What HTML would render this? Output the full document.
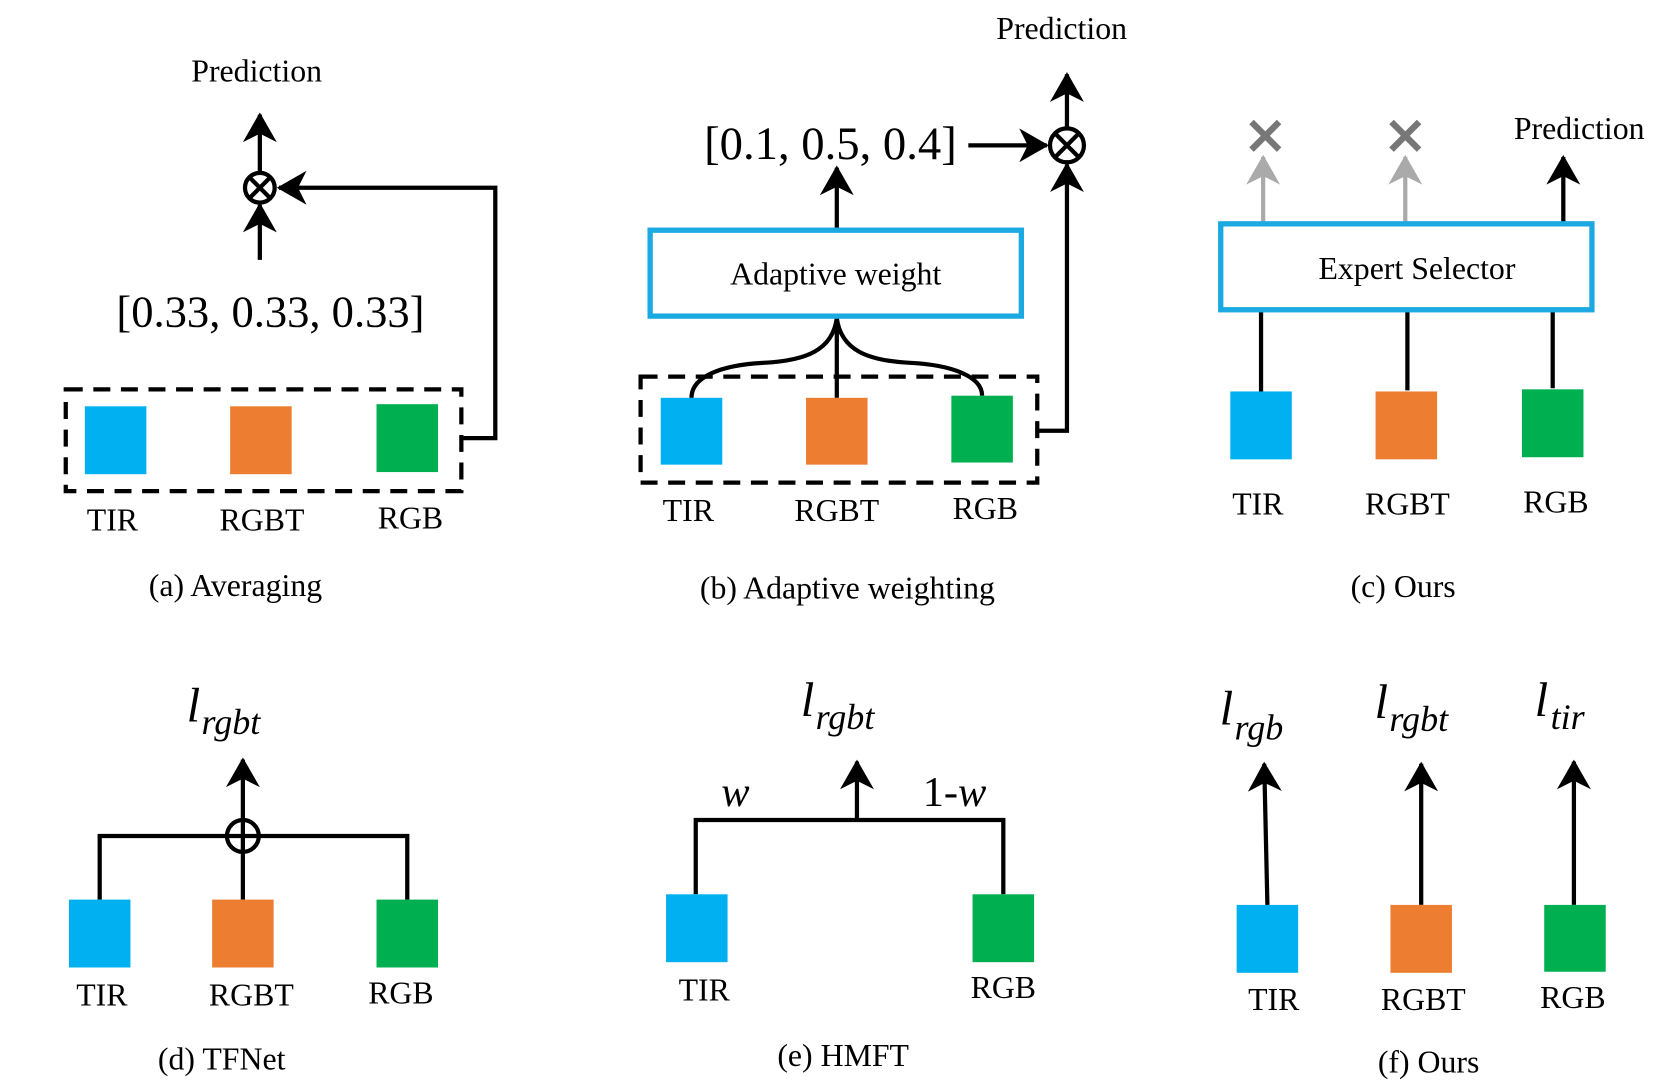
<!DOCTYPE html>
<html><head><meta charset="utf-8"><style>
html,body{margin:0;padding:0;background:#fff;width:1663px;height:1081px;overflow:hidden}
svg{display:block}
text{font-family:"Liberation Serif",serif;fill:#000}
</style></head><body>
<svg width="1663" height="1081" viewBox="0 0 1568 1019" preserveAspectRatio="none" xmlns="http://www.w3.org/2000/svg">
<defs>
<marker id="ah" markerWidth="8" markerHeight="8" refX="6.5" refY="4" orient="auto" markerUnits="strokeWidth">
<path d="M0,0 L7,4 L0,8 L2,4 Z" fill="#000"/></marker>
<marker id="ag" markerWidth="8" markerHeight="8" refX="6.5" refY="4" orient="auto" markerUnits="strokeWidth">
<path d="M0,0 L7,4 L0,8 L2,4 Z" fill="#aaa"/></marker>
</defs>
<g stroke="#000" stroke-width="4" fill="none">
<!-- (a) -->
<line x1="245" y1="162" x2="245" y2="108" marker-end="url(#ah)"/>
<line x1="245" y1="245" x2="245" y2="193" marker-end="url(#ah)"/>
<circle cx="245" cy="177" r="14"/>
<line x1="235" y1="167" x2="255" y2="187"/><line x1="255" y1="167" x2="235" y2="187"/>
<polyline points="437,413 467,413 467,177 263,177" marker-end="url(#ah)"/>
<rect x="62" y="367" width="373" height="96" stroke-dasharray="16,10"/>
<!-- (b) -->
<line x1="1006" y1="121" x2="1006" y2="70" marker-end="url(#ah)"/>
<circle cx="1006" cy="137" r="16"/>
<line x1="995" y1="126" x2="1017" y2="148"/><line x1="1017" y1="126" x2="995" y2="148"/>
<line x1="913" y1="137" x2="987" y2="137" marker-end="url(#ah)"/>
<line x1="789" y1="216" x2="789" y2="158" marker-end="url(#ah)"/>
<polyline points="978,406 1006,406 1006,155" marker-end="url(#ah)"/>
<path d="M789,300 L789,375"/>
<path d="M789,300 C785,330 760,340 720,342 C680,344 652,355 652,375"/>
<path d="M789,300 C793,330 818,340 858,342 C898,344 926,355 926,373"/>
<rect x="604" y="355" width="374" height="100" stroke-dasharray="16,10"/>
<!-- (c) -->
<line x1="1191" y1="210" x2="1191" y2="148" stroke="#aaa" marker-end="url(#ag)"/>
<line x1="1325" y1="210" x2="1325" y2="148" stroke="#aaa" marker-end="url(#ag)"/>
<line x1="1474" y1="210" x2="1474" y2="148" marker-end="url(#ah)"/>
<line x1="1189" y1="292" x2="1189" y2="369"/>
<line x1="1327" y1="292" x2="1327" y2="368"/>
<line x1="1464" y1="292" x2="1464" y2="366"/>
<!-- (d) -->
<line x1="229" y1="773" x2="229" y2="716" marker-end="url(#ah)"/>
<polyline points="94,848 94,788 384,788 384,848"/>
<line x1="229" y1="788" x2="229" y2="848"/>
<circle cx="229" cy="788" r="15" fill="#fff"/>
<line x1="229" y1="773" x2="229" y2="803"/><line x1="214" y1="788" x2="244" y2="788"/>
<!-- (e) -->
<polyline points="656,843 656,773 946,773 946,843"/>
<line x1="808" y1="773" x2="808" y2="718" marker-end="url(#ah)"/>
<!-- (f) -->
<line x1="1195" y1="853" x2="1192" y2="720" marker-end="url(#ah)"/>
<line x1="1340" y1="853" x2="1340" y2="720" marker-end="url(#ah)"/>
<line x1="1484" y1="853" x2="1484" y2="718" marker-end="url(#ah)"/>
</g>
<g stroke="#777" stroke-width="6">
<line x1="1180" y1="115" x2="1206" y2="141"/><line x1="1206" y1="115" x2="1180" y2="141"/>
<line x1="1312" y1="115" x2="1338" y2="141"/><line x1="1338" y1="115" x2="1312" y2="141"/>
</g>
<g fill="none" stroke="#1ba9e1" stroke-width="5">
<rect x="613" y="217" width="350" height="81"/>
<rect x="1151" y="211" width="350" height="81"/>
</g>
<!-- squares -->
<g>
<rect x="80" y="383" width="58" height="64" fill="#00b0f0"/>
<rect x="217" y="383" width="58" height="64" fill="#ed7d31"/>
<rect x="355" y="381" width="58" height="64" fill="#00b050"/>
<rect x="623" y="375" width="58" height="63" fill="#00b0f0"/>
<rect x="760" y="375" width="58" height="63" fill="#ed7d31"/>
<rect x="897" y="373" width="58" height="63" fill="#00b050"/>
<rect x="1160" y="369" width="58" height="64" fill="#00b0f0"/>
<rect x="1297" y="369" width="58" height="64" fill="#ed7d31"/>
<rect x="1435" y="367" width="58" height="64" fill="#00b050"/>
<rect x="65" y="848" width="58" height="64" fill="#00b0f0"/>
<rect x="200" y="848" width="58" height="64" fill="#ed7d31"/>
<rect x="355" y="848" width="58" height="64" fill="#00b050"/>
<rect x="628" y="843" width="58" height="64" fill="#00b0f0"/>
<rect x="917" y="843" width="58" height="64" fill="#00b050"/>
<rect x="1166" y="853" width="58" height="64" fill="#00b0f0"/>
<rect x="1311" y="853" width="58" height="64" fill="#ed7d31"/>
<rect x="1456" y="853" width="58" height="63" fill="#00b050"/>
</g>
<g font-size="30" text-anchor="middle">
<text x="242" y="77">Prediction</text>
<text x="255" y="308" font-size="42">[0.33, 0.33, 0.33]</text>
<text x="106" y="500">TIR</text><text x="247" y="500">RGBT</text><text x="387" y="498">RGB</text>
<text x="222" y="562">(a) Averaging</text>
<text x="1001" y="37">Prediction</text>
<text x="783" y="150" font-size="44">[0.1, 0.5, 0.4]</text>
<text x="788" y="268">Adaptive weight</text>
<text x="649" y="491">TIR</text><text x="789" y="491">RGBT</text><text x="929" y="489">RGB</text>
<text x="799" y="564">(b) Adaptive weighting</text>
<text x="1489" y="131">Prediction</text>
<text x="1336" y="263">Expert Selector</text>
<text x="1186" y="485">TIR</text><text x="1327" y="485">RGBT</text><text x="1467" y="483">RGB</text>
<text x="1323" y="563">(c) Ours</text>
<text x="96" y="948">TIR</text><text x="237" y="948">RGBT</text><text x="378" y="946">RGB</text>
<text x="209" y="1008">(d) TFNet</text>
<text x="664" y="943">TIR</text><text x="946" y="941">RGB</text>
<text x="795" y="1005">(e) HMFT</text>
<text x="1201" y="952">TIR</text><text x="1342" y="952">RGBT</text><text x="1483" y="950">RGB</text>
<text x="1347" y="1011">(f) Ours</text>
</g>
<g font-style="italic">
<text x="176" y="680" font-size="46">l</text><text x="190" y="692" font-size="34">rgbt</text>
<text x="755" y="675" font-size="46">l</text><text x="769" y="687" font-size="34">rgbt</text>
<text x="680" y="760" font-size="40">w</text>
<text x="870" y="760" font-size="40" font-style="normal">1-<tspan font-style="italic">w</tspan></text>
<text x="1150" y="683" font-size="46">l</text><text x="1164" y="697" font-size="34">rgb</text>
<text x="1296" y="677" font-size="46">l</text><text x="1310" y="689" font-size="34">rgbt</text>
<text x="1447" y="675" font-size="46">l</text><text x="1462" y="687" font-size="34">tir</text>
</g>
</svg>
</body></html>
